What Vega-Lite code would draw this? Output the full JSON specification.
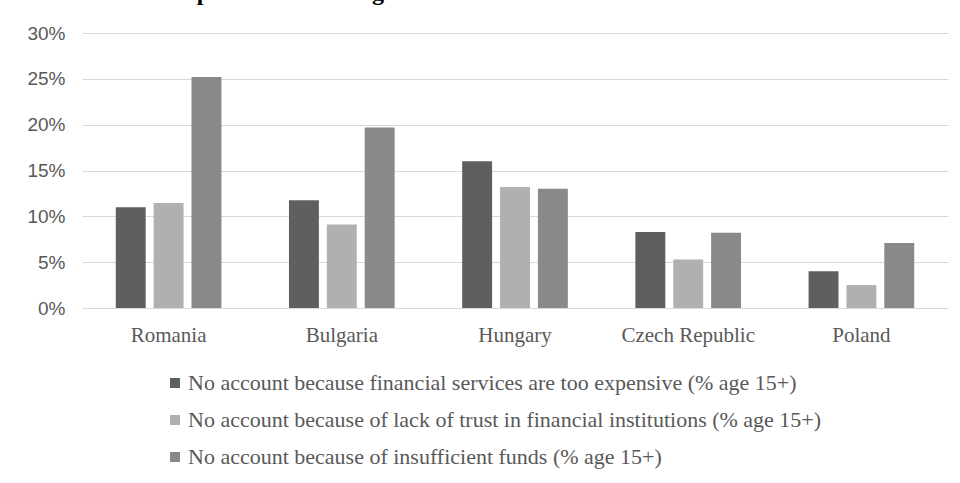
{
  "$schema": "https://vega.github.io/schema/vega-lite/v6.json",
  "width": 866,
  "height": 275,
  "autosize": {"type": "none"},
  "padding": {"left": 82, "top": 33, "right": 12, "bottom": 175},
  "background": "white",
  "title": {
    "text": "Graph 12: Barriers against financial inclusion in CEE countries",
    "font": "Liberation Serif",
    "fontSize": 24,
    "fontWeight": "bold",
    "color": "black",
    "anchor": "middle",
    "frame": "group",
    "baseline": "alphabetic",
    "offset": 0,
    "dx": -33
  },
  "data": {
    "values": [
      {"country": "Romania", "series": "No account because financial services are too expensive (% age 15+)", "value": 0.110},
      {"country": "Romania", "series": "No account because of lack of trust in financial institutions (% age 15+)", "value": 0.1145},
      {"country": "Romania", "series": "No account because of insufficient funds (% age 15+)", "value": 0.252},
      {"country": "Bulgaria", "series": "No account because financial services are too expensive (% age 15+)", "value": 0.1175},
      {"country": "Bulgaria", "series": "No account because of lack of trust in financial institutions (% age 15+)", "value": 0.091},
      {"country": "Bulgaria", "series": "No account because of insufficient funds (% age 15+)", "value": 0.197},
      {"country": "Hungary", "series": "No account because financial services are too expensive (% age 15+)", "value": 0.160},
      {"country": "Hungary", "series": "No account because of lack of trust in financial institutions (% age 15+)", "value": 0.132},
      {"country": "Hungary", "series": "No account because of insufficient funds (% age 15+)", "value": 0.130},
      {"country": "Czech Republic", "series": "No account because financial services are too expensive (% age 15+)", "value": 0.083},
      {"country": "Czech Republic", "series": "No account because of lack of trust in financial institutions (% age 15+)", "value": 0.053},
      {"country": "Czech Republic", "series": "No account because of insufficient funds (% age 15+)", "value": 0.082},
      {"country": "Poland", "series": "No account because financial services are too expensive (% age 15+)", "value": 0.040},
      {"country": "Poland", "series": "No account because of lack of trust in financial institutions (% age 15+)", "value": 0.025},
      {"country": "Poland", "series": "No account because of insufficient funds (% age 15+)", "value": 0.071}
    ]
  },
  "mark": {"type": "bar"},
  "encoding": {
    "x": {
      "field": "country",
      "type": "nominal",
      "sort": ["Romania", "Bulgaria", "Hungary", "Czech Republic", "Poland"],
      "scale": {"paddingInner": 0.39, "paddingOuter": 0.195},
      "axis": {
        "title": null,
        "labelAngle": 0,
        "labelFont": "Liberation Serif",
        "labelFontSize": 21,
        "labelColor": "#595959",
        "ticks": false,
        "domain": false,
        "labelPadding": 16
      }
    },
    "xOffset": {
      "field": "series",
      "type": "nominal",
      "sort": [
        "No account because financial services are too expensive (% age 15+)",
        "No account because of lack of trust in financial institutions (% age 15+)",
        "No account because of insufficient funds (% age 15+)"
      ],
      "scale": {"paddingInner": 0.21, "paddingOuter": 0}
    },
    "y": {
      "field": "value",
      "type": "quantitative",
      "scale": {"domain": [0, 0.3]},
      "axis": {
        "title": null,
        "values": [0, 0.05, 0.1, 0.15, 0.2, 0.25, 0.3],
        "format": ".0%",
        "labelFont": "Liberation Sans",
        "labelFontSize": 19,
        "labelColor": "#595959",
        "ticks": false,
        "domain": false,
        "gridColor": "#d9d9d9",
        "gridWidth": 1,
        "labelPadding": 17
      }
    },
    "color": {
      "field": "series",
      "type": "nominal",
      "sort": [
        "No account because financial services are too expensive (% age 15+)",
        "No account because of lack of trust in financial institutions (% age 15+)",
        "No account because of insufficient funds (% age 15+)"
      ],
      "scale": {
        "domain": [
          "No account because financial services are too expensive (% age 15+)",
          "No account because of lack of trust in financial institutions (% age 15+)",
          "No account because of insufficient funds (% age 15+)"
        ],
        "range": ["#5f5f5f", "#b0b0b0", "#898989"]
      },
      "legend": {
        "title": null,
        "orient": "none",
        "legendX": 82,
        "legendY": 339,
        "direction": "vertical",
        "symbolType": "square",
        "symbolSize": 100,
        "symbolStrokeWidth": 0,
        "symbolOpacity": 1,
        "labelFont": "Liberation Serif",
        "labelFontSize": 22,
        "labelColor": "#595959",
        "labelOffset": 2,
        "rowPadding": 15,
        "labelLimit": 1000
      }
    }
  },
  "config": {"view": {"stroke": null}}
}
